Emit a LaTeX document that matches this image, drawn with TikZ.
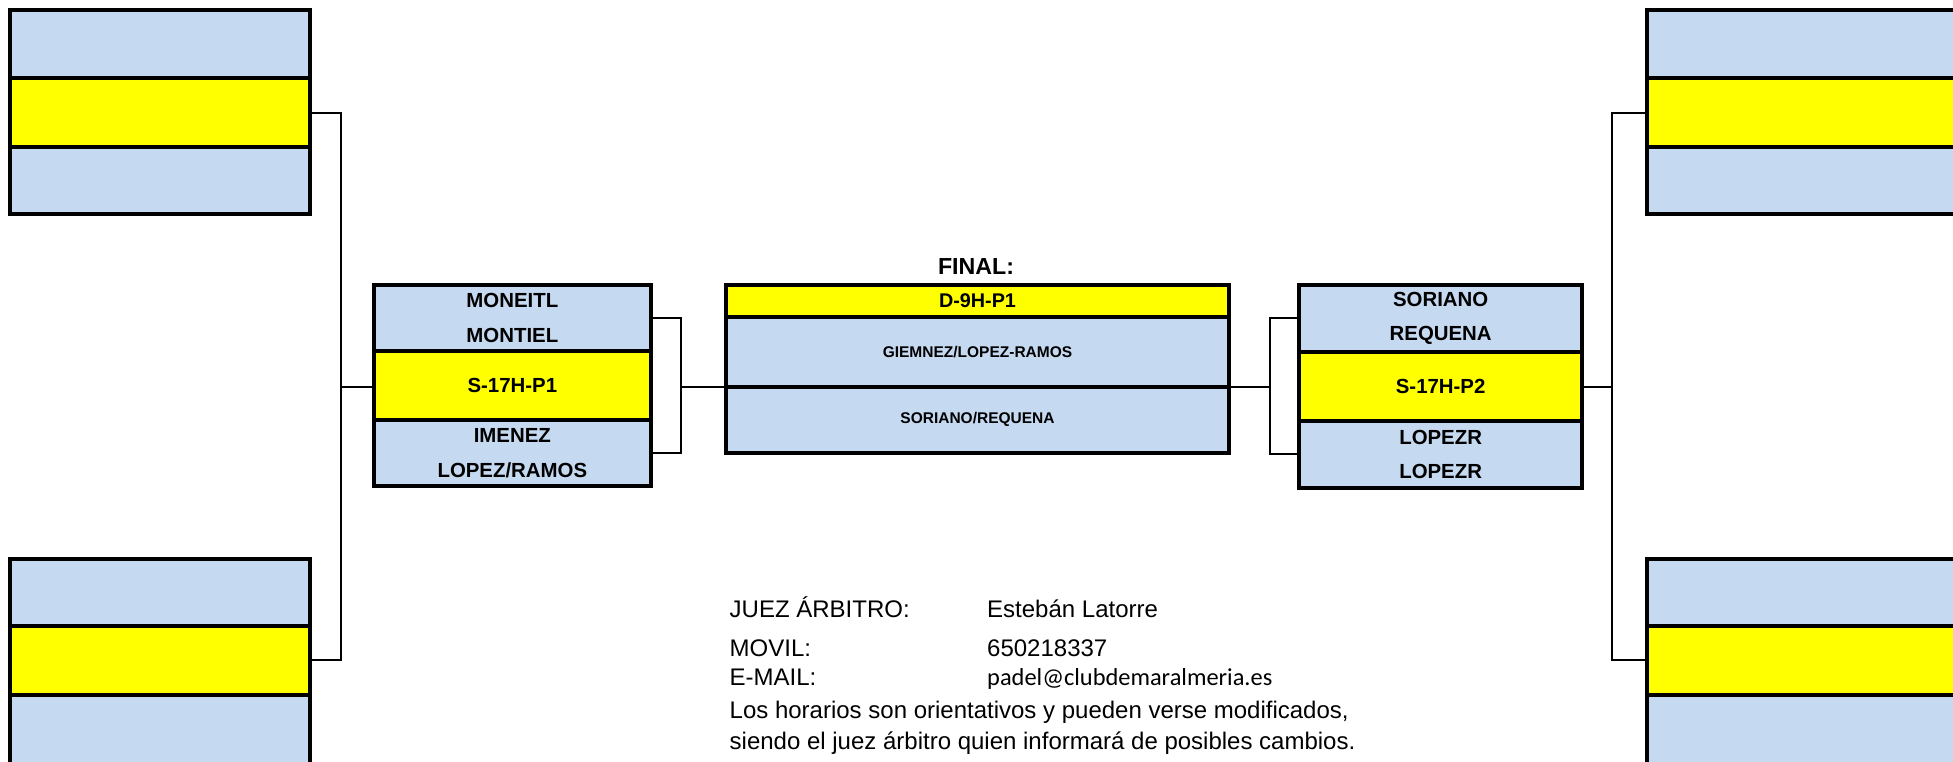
\documentclass[tikz,border=0pt]{standalone}
\usepackage{fontspec}
\setmainfont{Liberation Sans}
\newfontfamily\footfont{Liberation Sans}
\newfontfamily\mailfont{Carlito}
\definecolor{cellblue}{RGB}{197,217,241}
\definecolor{cellyellow}{RGB}{255,255,0}
\begin{document}
\begin{tikzpicture}[x=1pt,y=-1pt,
  cell/.style={draw=black, line width=4pt, rectangle, inner sep=0pt, align=center,
    font=\fontsize{20.4}{34.4}\selectfont\bfseries},
  bcell/.style={cell, fill=cellblue},
  ycell/.style={cell, fill=cellyellow},
  conn/.style={draw=black, line width=2pt},
  foot/.style={anchor=base west, inner sep=0pt, font=\footfont\fontsize{24}{28}\selectfont}]
\useasboundingbox (0,0) rectangle (1953,761);
\clip (0,0) rectangle (1953,761);
\fill[white] (0,0) rectangle (1953,761);

% top-left box
\node[bcell, minimum width=299.7pt, minimum height=68pt] (tl1) at (159.85,44) {};
\node[ycell, minimum width=299.7pt, minimum height=69pt] (tl2) at (159.85,112.5) {};
\node[bcell, minimum width=299.7pt, minimum height=67pt] (tl3) at (159.85,180.5) {};
% bottom-left box
\node[bcell, minimum width=299.7pt, minimum height=66.7pt] (bl1) at (159.85,592.65) {};
\node[ycell, minimum width=299.7pt, minimum height=68.7pt] (bl2) at (159.85,660.35) {};
\node[bcell, minimum width=299.7pt, minimum height=69.3pt] (bl3) at (159.85,729.35) {};
% top-right box
\node[bcell, minimum width=343.3pt, minimum height=68pt] (tr1) at (1818.35,44) {};
\node[ycell, minimum width=343.3pt, minimum height=69pt] (tr2) at (1818.35,112.5) {};
\node[bcell, minimum width=343.3pt, minimum height=67pt] (tr3) at (1818.35,180.5) {};
% bottom-right box
\node[bcell, minimum width=343.3pt, minimum height=66.7pt] (br1) at (1818.35,592.65) {};
\node[ycell, minimum width=343.3pt, minimum height=68.7pt] (br2) at (1818.35,660.35) {};
\node[bcell, minimum width=343.3pt, minimum height=69.3pt] (br3) at (1818.35,729.35) {};

% left semifinal
\node[bcell, minimum width=276.7pt, minimum height=65.7pt] (sl1) at (512.35,318.15) {MONEITL\\MONTIEL};
\node[ycell, minimum width=276.7pt, minimum height=69pt] (sl2) at (512.35,385.5) {S-17H-P1};
\node[bcell, minimum width=276.7pt, minimum height=66.3pt] (sl3) at (512.35,453.15) {IMENEZ\\LOPEZ/RAMOS};

% final
\node[anchor=base, inner sep=0pt, font=\fontsize{23.2}{28}\selectfont\bfseries] (finallbl) at (976,274) {FINAL:};
\node[ycell, minimum width=503pt, minimum height=32.6pt, font=\fontsize{19.8}{24}\selectfont\bfseries] (f1) at (977.5,301) {D-9H-P1};
\node[bcell, minimum width=503pt, minimum height=69.4pt, font=\fontsize{15.5}{19}\selectfont\bfseries] (f2) at (977.5,352) {GIEMNEZ/LOPEZ-RAMOS};
\node[bcell, minimum width=503pt, minimum height=66.3pt, font=\fontsize{15.5}{19}\selectfont\bfseries] (f3) at (977.5,419.85) {SORIANO/REQUENA};

% right semifinal
\node[bcell, minimum width=282.7pt, minimum height=67pt] (sr1) at (1440.65,318.2) {SORIANO\\REQUENA};
\node[ycell, minimum width=282.7pt, minimum height=69pt] (sr2) at (1440.65,386.2) {S-17H-P2};
\node[bcell, minimum width=282.7pt, minimum height=67.3pt] (sr3) at (1440.65,454.35) {LOPEZR\\LOPEZR};

% junctions
\coordinate (jl) at (340.7,386.7);
\coordinate (jm) at (680.7,386.7);
\coordinate (jr) at (1270,386.7);
\coordinate (jrr) at (1611.7,386.7);

% connectors
\draw[conn] (tl2.east) -| (jl) |- (bl2.east);
\draw[conn] (jl) -- (jl -| sl2.west);
\draw[conn] (sl1.east) -| (jm) |- (sl3.east);
\draw[conn] (jm) -- (jm -| f2.west);
\draw[conn] (jr -| f2.east) -- (jr);
\draw[conn] (sr1.west) -| (jr) |- (sr3.west);
\draw[conn] (jrr -| sr2.east) -- (jrr);
\draw[conn] (tr2.west) -| (jrr) |- (br2.west);

% footer
\node[foot] (judgelbl) at (729.5,617.3) {JUEZ ÁRBITRO:};
\node[foot] (judge) at (987,617.3) {Estebán Latorre};
\node[foot] (movillbl) at (729.5,656.7) {MOVIL:};
\node[foot] (movil) at (987,656.7) {650218337};
\node[foot] (maillbl) at (729.5,685) {E-MAIL:};
\node[foot, font=\mailfont\fontsize{24.4}{29}\selectfont] (mail) at (987,685) {padel@clubdemaralmeria.es};
\node[foot] (note1) at (729.5,718.7) {Los horarios son orientativos y pueden verse modificados,};
\node[foot] (note2) at (729.5,749) {siendo el juez árbitro quien informará de posibles cambios.};
\end{tikzpicture}
\end{document}
